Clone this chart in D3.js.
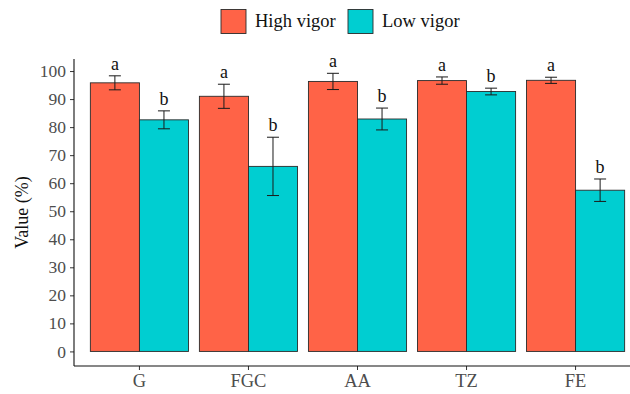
<!DOCTYPE html>
<html>
<head>
<meta charset="utf-8">
<script src="https://cdn.jsdelivr.net/npm/d3@7"></script>
<style>
  body { margin: 0; background: #fff; }
  svg { display: block; font-family: "Palatino Linotype", "Book Antiqua", Palatino, "Liberation Serif", serif; }
</style>
</head>
<body>
<div id="chart"></div>
<script>
// data
const categories = ["G", "FGC", "AA", "TZ", "FE"]
const series = ["High vigor", "Low vigor"]
const highVigor = [95.8, 91.0, 96.3, 96.6, 96.7]
const highSd = [2.5, 4.3, 2.9, 1.3, 1.1]
const lowVigor = [82.6, 66.0, 82.9, 92.7, 57.5]
const lowSd = [3.2, 10.4, 3.9, 1.2, 4.0]
const highLetters = ["a", "a", "a", "a", "a"]
const lowLetters = ["b", "b", "b", "b", "b"]
const yTicks = [0, 10, 20, 30, 40, 50, 60, 70, 80, 90, 100]

const colors = {"High vigor": "#FF6347", "Low vigor": "#00CED1"}

const width = 630, height = 394
const panel = {left: 74, right: 641, top: 59, bottom: 366}

const rows = categories.flatMap((c, i) => [
    {cat: c, s: "High vigor", v: highVigor[i], sd: highSd[i], lab: highLetters[i]},
    {cat: c, s: "Low vigor", v: lowVigor[i], sd: lowSd[i], lab: lowLetters[i]},
])

const svg = d3.select("#chart")
    .append("svg")
    .attr("width", width)
    .attr("height", height)

// scales
const x = d3.scaleBand()
    .domain(categories)
    .range([panel.left, panel.right])
    .paddingInner(0.1)
    .paddingOuter(0.15)

const xs = d3.scaleBand()
    .domain(series)
    .range([0, x.bandwidth()])

const y = d3.scaleLinear()
    .domain([-5.2, 104.3])
    .range([panel.bottom, panel.top])

// bars
svg.append("g")
    .selectAll("rect")
    .data(rows)
    .join("rect")
    .attr("x", d => x(d.cat) + xs(d.s))
    .attr("y", d => y(d.v))
    .attr("width", xs.bandwidth())
    .attr("height", d => y(0) - y(d.v))
    .attr("fill", d => colors[d.s])
    .attr("stroke", "#2a2a2a")
    .attr("stroke-width", 0.9)

// error bars
const err = svg.append("g")
    .attr("stroke", "#1a1a1a")
    .attr("stroke-width", 1)
    .selectAll("g")
    .data(rows)
    .join("g")
    .attr("transform", d => `translate(${x(d.cat) + xs(d.s) + xs.bandwidth() / 2},0)`)

err.append("line")
    .attr("y1", d => y(d.v - d.sd))
    .attr("y2", d => y(d.v + d.sd))
err.append("line")
    .attr("x1", -6).attr("x2", 6)
    .attr("y1", d => y(d.v + d.sd))
    .attr("y2", d => y(d.v + d.sd))
err.append("line")
    .attr("x1", -6).attr("x2", 6)
    .attr("y1", d => y(d.v - d.sd))
    .attr("y2", d => y(d.v - d.sd))

// letters
svg.append("g")
    .selectAll("text")
    .data(rows)
    .join("text")
    .attr("x", d => x(d.cat) + xs(d.s) + xs.bandwidth() / 2)
    .attr("y", d => y(d.v + d.sd) - 6)
    .attr("text-anchor", "middle")
    .attr("font-size", 18)
    .attr("fill", "#111")
    .text(d => d.lab)

// axes
const yAxis = svg.append("g")
    .attr("transform", `translate(${panel.left},0)`)
    .call(d3.axisLeft(y).tickValues(yTicks).tickSize(4).tickPadding(4))
    .attr("font-family", null)
    .attr("font-size", null)
yAxis.select(".domain").remove()
yAxis.append("line")
    .attr("y1", panel.top).attr("y2", panel.bottom)
    .attr("stroke", "#111").attr("stroke-width", 1.1)
yAxis.selectAll(".tick line").attr("stroke", "#333")
yAxis.selectAll(".tick text")
    .attr("font-size", 17.5)
    .attr("fill", "#4d4d4d")

const xAxis = svg.append("g")
    .attr("transform", `translate(0,${panel.bottom})`)
    .call(d3.axisBottom(x).tickSize(4).tickPadding(4))
    .attr("font-family", null)
    .attr("font-size", null)
xAxis.select(".domain").remove()
xAxis.append("line")
    .attr("x1", panel.left).attr("x2", panel.right)
    .attr("stroke", "#111").attr("stroke-width", 1.1)
xAxis.selectAll(".tick line").attr("stroke", "#333")
xAxis.selectAll(".tick text")
    .attr("font-size", 18.5)
    .attr("fill", "#4d4d4d")

// y title
svg.append("text")
    .attr("transform", `translate(28,${(panel.top + panel.bottom) / 2}) rotate(-90)`)
    .attr("text-anchor", "middle")
    .attr("font-size", 18)
    .attr("fill", "#111")
    .text("Value (%)")

// legend
const legendX = [221, 348]
const legend = svg.append("g")
    .selectAll("g")
    .data(series)
    .join("g")
    .attr("transform", (d, i) => `translate(${legendX[i]},9.5)`)

legend.append("rect")
    .attr("width", 25)
    .attr("height", 24)
    .attr("fill", d => colors[d])
    .attr("stroke", "#2a2a2a")
    .attr("stroke-width", 0.9)

legend.append("text")
    .attr("x", 34)
    .attr("y", 17.5)
    .attr("font-size", 18.5)
    .attr("fill", "#111")
    .text(d => d)
</script>
</body>
</html>
